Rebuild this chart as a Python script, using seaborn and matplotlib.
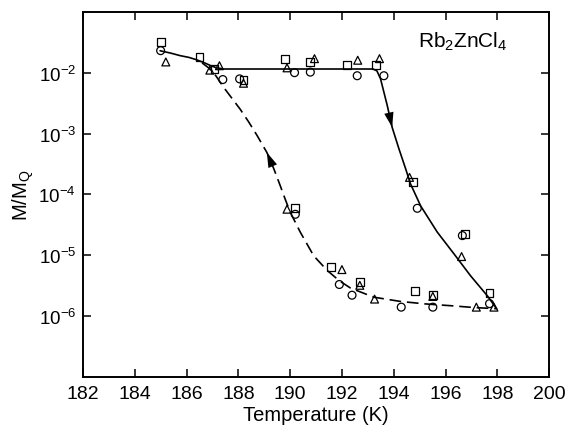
import numpy as np
import pandas as pd
import matplotlib
matplotlib.use('Agg')
import matplotlib.pyplot as plt
import seaborn as sns

# Данные: точки (T, M/M_Q) для трёх серий символов
circle_T = [185.0, 187.4, 188.05, 190.17, 190.78, 192.59, 193.62,
            190.2, 194.91, 196.65, 197.7, 195.51, 194.29, 192.39, 191.9]
circle_M = [2.3e-2, 7.7e-3, 7.9e-3, 1.0e-2, 1.02e-2, 8.9e-3, 8.9e-3,
            4.7e-5, 5.9e-5, 2.1e-5, 1.6e-6, 1.4e-6, 1.4e-6, 2.2e-6, 3.3e-6]

square_T = [185.0, 186.5, 187.08, 188.2, 189.81, 190.76, 192.2, 193.33,
            194.74, 196.75, 197.7, 195.51, 194.82, 192.69, 191.58, 190.2]
square_M = [3.2e-2, 1.8e-2, 1.15e-2, 7.6e-3, 1.7e-2, 1.5e-2, 1.35e-2, 1.35e-2,
            1.6e-4, 2.2e-5, 2.4e-6, 2.2e-6, 2.6e-6, 3.6e-6, 6.5e-6, 5.9e-5]

triangle_T = [185.2, 186.9, 187.27, 188.2, 189.88, 190.94, 192.61, 193.45,
              194.61, 196.62, 197.87, 197.19, 195.51, 193.26, 192.69, 192.0, 189.88]
triangle_M = [1.5e-2, 1.1e-2, 1.3e-2, 6.7e-3, 1.2e-2, 1.7e-2, 1.6e-2, 1.7e-2,
              1.9e-4, 9.5e-6, 1.4e-6, 1.4e-6, 2.1e-6, 1.9e-6, 3.2e-6, 5.8e-6, 5.7e-5]

# Кривые, проведённые от руки (log10 M/M_Q)
solid_T = [184.98, 185.4, 185.75, 186.1, 186.4, 186.7, 186.91, 187.15, 187.43,
           190.0, 193.2, 193.35, 193.49, 193.75, 193.94, 194.2, 194.46, 194.65,
           195.04, 195.68, 196.33, 196.97, 197.62, 197.94]
solid_logM = [-1.64, -1.68, -1.72, -1.75, -1.79, -1.84, -1.88, -1.92, -1.94,
              -1.94, -1.94, -1.97, -2.10, -2.54, -2.90, -3.25, -3.58, -3.83,
              -4.19, -4.62, -4.98, -5.34, -5.67, -5.86]

dashed_T = [186.6, 186.85, 187.13, 187.43, 187.75, 188.07, 188.4, 188.72,
            189.1, 189.37, 189.62, 189.81, 190.0, 190.39, 190.91, 191.43,
            191.9, 192.33, 193.23, 194.26, 195.2, 196.2, 197.1, 198.0]
dashed_logM = [-1.84, -1.92, -2.05, -2.24, -2.42, -2.60, -2.81, -3.03,
               -3.31, -3.58, -3.86, -4.08, -4.29, -4.62, -5.01, -5.25,
               -5.42, -5.54, -5.69, -5.76, -5.80, -5.83, -5.86, -5.88]

x_ticks = [182, 184, 186, 188, 190, 192, 194, 196, 198, 200]
y_ticks = [1e-6, 1e-5, 1e-4, 1e-3, 1e-2]

# Индексы точек кривых, где стоят стрелки (вниз по сплошной, вверх по штриховой)
SOLID_ARROW = 14
DASHED_ARROW = 8

sns.set_theme(style='ticks')
plt.rcParams['font.family'] = ['Liberation Sans', 'DejaVu Sans']
plt.rcParams['mathtext.fontset'] = 'custom'
plt.rcParams['mathtext.rm'] = 'Liberation Sans'
plt.rcParams['mathtext.it'] = 'Liberation Sans'
plt.rcParams['mathtext.default'] = 'rm'
plt.rcParams['text.color'] = 'black'
plt.rcParams['axes.labelcolor'] = 'black'
plt.rcParams['xtick.color'] = 'black'
plt.rcParams['ytick.color'] = 'black'

points = pd.concat([
    pd.DataFrame({'T': circle_T, 'M': circle_M, 'sym': 'o'}),
    pd.DataFrame({'T': square_T, 'M': square_M, 'sym': 's'}),
    pd.DataFrame({'T': triangle_T, 'M': triangle_M, 'sym': '^'}),
])
solid = pd.DataFrame({'T': solid_T, 'M': np.power(10.0, solid_logM)})
dashed = pd.DataFrame({'T': dashed_T, 'M': np.power(10.0, dashed_logM)})

fig = plt.figure(figsize=(5.72, 4.27), dpi=100)
ax = fig.add_axes([0.145, 0.115, 0.815, 0.855])

sns.lineplot(data=solid, x='T', y='M', sort=False, color='black', lw=1.2, ax=ax)
sns.lineplot(data=dashed, x='T', y='M', sort=False, color='black', lw=1.2,
             linestyle=(0, (7, 3.5)), ax=ax)

for sym, grp in points.groupby('sym'):
    sns.scatterplot(data=grp, x='T', y='M', marker=sym, s=32, facecolor='none',
                    edgecolor='black', linewidth=0.9, ax=ax, legend=False)

# Стрелки на кривых
for df, i, d in [(solid, SOLID_ARROW, 1), (dashed, DASHED_ARROW, -1)]:
    head = (df['T'].iloc[i], df['M'].iloc[i])
    tail = (df['T'].iloc[i - d], df['M'].iloc[i - d])
    ax.annotate('', xy=head, xytext=tail,
                arrowprops=dict(arrowstyle='-|>,head_length=0.9,head_width=0.28',
                                color='black', lw=0.01, shrinkA=0, shrinkB=0))

ax.text(194.95, 10 ** -1.48, r'Rb$_2$ZnCl$_4$', fontsize=15, ha='left', va='center')

ax.set_yscale('log')
ax.set_xlim(182, 200)
ax.set_ylim(1e-7, 1e-1)
ax.set_xticks(x_ticks)
ax.set_yticks(y_ticks)
ax.yaxis.set_minor_locator(matplotlib.ticker.NullLocator())
ax.tick_params(which='both', direction='in', top=True, right=True,
               length=6, width=1.1, labelsize=14)
ax.tick_params(axis='x', pad=6)
ax.tick_params(axis='y', pad=5, labelsize=13.5)
ax.set_xlabel('Temperature (K)', fontsize=14.5, labelpad=2)
ax.set_ylabel('M/M$_Q$', fontsize=14.5, labelpad=2)
for s in ax.spines.values():
    s.set_linewidth(1.4)
    s.set_color('black')

plt.savefig('out.png', dpi=100)
plt.close()
